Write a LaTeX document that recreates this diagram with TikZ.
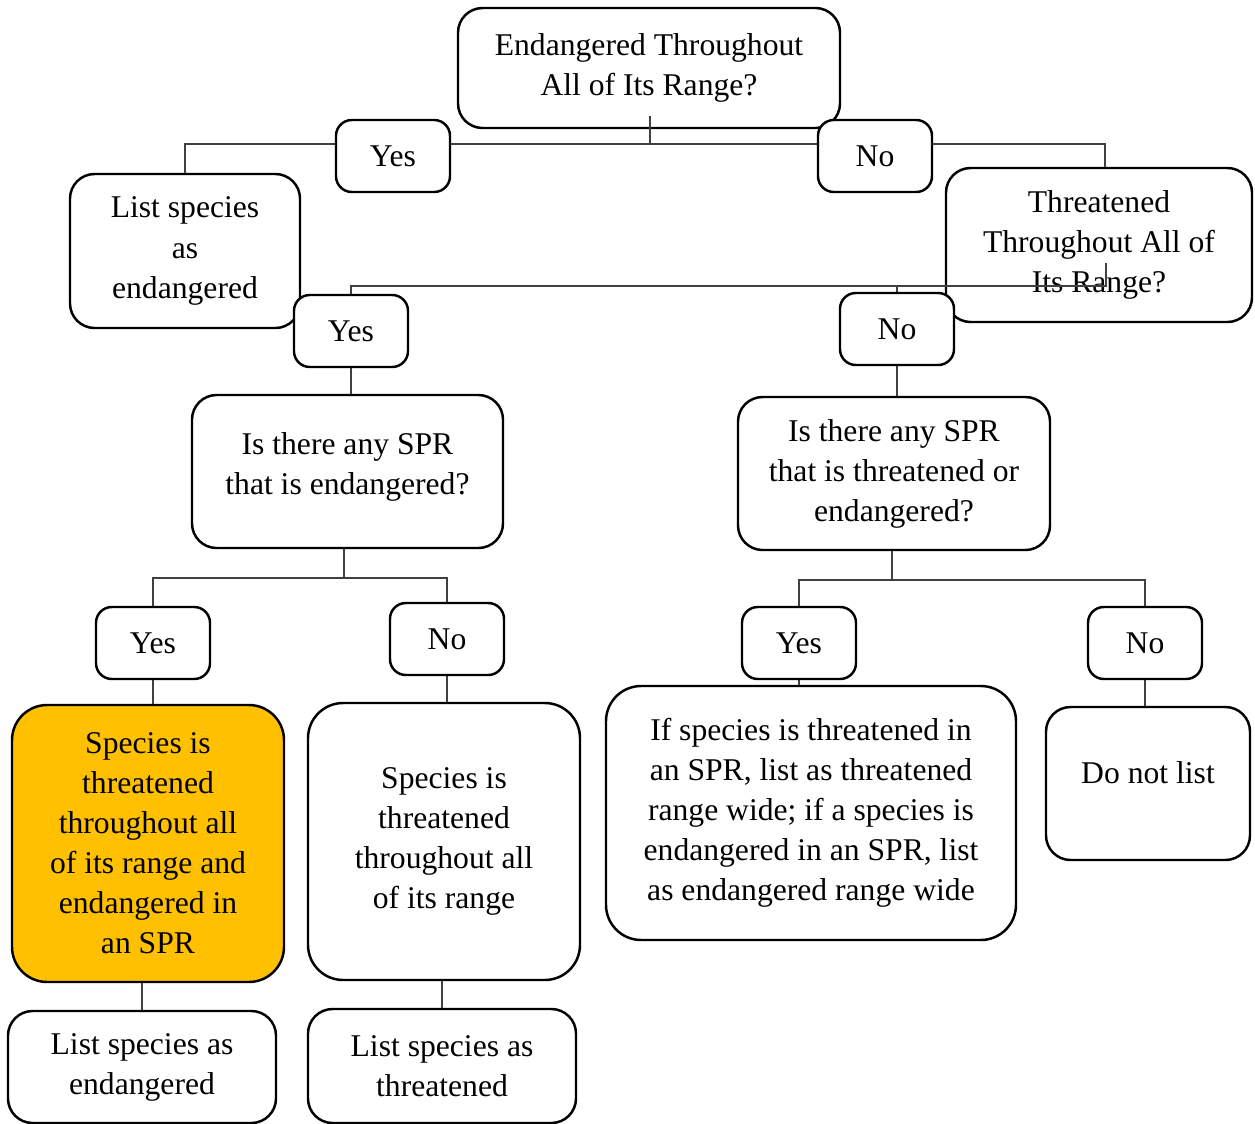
\documentclass[tikz,border=0pt]{standalone}
\usepackage{fontspec}
\setmainfont{Liberation Serif}
\usepackage{tikz}
\usetikzlibrary{calc}
\usetikzlibrary{positioning}
\usepackage{color}
\definecolor{amberfill}{RGB}{255, 192, 0}
\definecolor{linkgray}{RGB}{64, 64, 64}
\pgfdeclarelayer{front}
\pgfsetlayers{main,front}

\begin{document}
\begin{tikzpicture}[
        every node/.style={font=\fontsize{18}{22.8}\selectfont, align=center},
        bigbox/.style={draw, line width=1.4pt, rounded corners=14pt, fill=white, inner sep=0pt},
        tallbox/.style={bigbox, rounded corners=20pt},
        answer/.style={draw, line width=1.4pt, rounded corners=9pt, fill=white,
                       minimum width=2.28cm, minimum height=1.44cm, inner sep=0pt},
        link/.style={draw=linkgray, line width=0.8pt}
    ]
            \useasboundingbox (0.00, 0.00) rectangle (25.10,-22.48);
            % Questions
            \node[bigbox, minimum width=7.64cm, minimum height=2.40cm] (endall) at (12.98,-1.36)
                 {Endangered Throughout\\All of Its Range?};
            \node[bigbox, minimum width=6.12cm, minimum height=3.08cm] (threat) at (21.98,-4.90)
                 {Threatened\\Throughout All of\\Its Range?};
            \node[bigbox, minimum width=6.22cm, minimum height=3.06cm] (sprend) at ( 6.95,-9.43)
                 {Is there any SPR\\that is endangered?\\[-0.5cm]};
            \node[bigbox, minimum width=6.24cm, minimum height=3.06cm] (sprthr) at (17.88,-9.47)
                 {Is there any SPR\\that is threatened or\\endangered?};
            % Outcomes
            \node[bigbox, minimum width=4.60cm, minimum height=3.08cm] (listend) at ( 3.70,-5.02)
                 {List species\\as\\endangered};
            \node[tallbox, fill=amberfill, minimum width=5.44cm, minimum height=5.54cm] (both) at ( 2.96,-16.87)
                 {Species is\\threatened\\throughout all\\of its range and\\endangered in\\an SPR};
            \node[tallbox, minimum width=5.44cm, minimum height=5.54cm] (thrall) at ( 8.88,-16.83)
                 {Species is\\threatened\\throughout all\\of its range};
            \node[tallbox, minimum width=8.20cm, minimum height=5.08cm] (ifspr) at (16.22,-16.26)
                 {If species is threatened in\\an SPR, list as threatened\\range wide; if a species is\\endangered in an SPR, list\\as endangered range wide};
            \node[bigbox, minimum width=4.08cm, minimum height=3.06cm] (donot) at (22.96,-15.67)
                 {Do not list\\[-0.38cm]};
            \node[bigbox, minimum width=5.36cm, minimum height=2.24cm] (listend2) at ( 2.84,-21.34)
                 {List species as\\endangered};
            \node[bigbox, minimum width=5.36cm, minimum height=2.28cm] (listthr) at ( 8.84,-21.32)
                 {List species as\\threatened};
            % Yes / No answers
            \begin{pgfonlayer}{front}
            \node[answer] (yes1) at ( 7.86,-3.12) {Yes};
            \node[answer] (no1)  at (17.50,-3.12) {No};
            \node[answer] (yes2) at ( 7.02,-6.62) {Yes};
            \node[answer] (no2)  at (17.94,-6.58) {No};
            \node[answer] (yes3) at ( 3.06,-12.86) {Yes};
            \node[answer] (no3)  at ( 8.94,-12.78) {No};
            \node[answer] (yes4) at (15.98,-12.86) {Yes};
            \node[answer] (no4)  at (22.90,-12.86) {No};
            \end{pgfonlayer}
            % Branch bars
            \coordinate (bar1) at (13.00,-2.88);
            \coordinate (bar2) at (17.94,-5.72);
            \coordinate (bar3) at ( 6.88,-11.56);
            \coordinate (bar4) at (17.84,-11.60);
            % Connectors
            \draw[link] ([yshift=0.26cm]endall.south -| bar1) -- (bar1);
            \draw[link] (listend.north) |- (bar1) -| ([xshift=0.12cm]threat.north);
            \draw[link] (yes2.north) |- (bar2) -| ([xshift=0.14cm, yshift=1.20cm]threat.south);
            \draw[link] (no2.north) -- (no2.north |- bar2);
            \draw[link] (yes2.south) -- (yes2.south |- sprend.north);
            \draw[link] (no2.south) -- (no2.south |- sprthr.north);
            \draw[link] (sprend.south -| bar3) -- (bar3);
            \draw[link] (yes3.north) |- (bar3) -| (no3.north);
            \draw[link] (sprthr.south -| bar4) -- (bar4);
            \draw[link] (yes4.north) |- (bar4) -| (no4.north);
            \draw[link] (yes3.south) -- (yes3.south |- both.north);
            \draw[link] (no3.south) -- (no3.south |- thrall.north);
            \draw[link] (yes4.south) -- (yes4.south |- ifspr.north);
            \draw[link] (no4.south) -- (no4.south |- donot.north);
            \draw[link] (listend2.north |- both.south) -- (listend2.north);
            \draw[link] (listthr.north |- thrall.south) -- (listthr.north);
\end{tikzpicture}
\end{document}
